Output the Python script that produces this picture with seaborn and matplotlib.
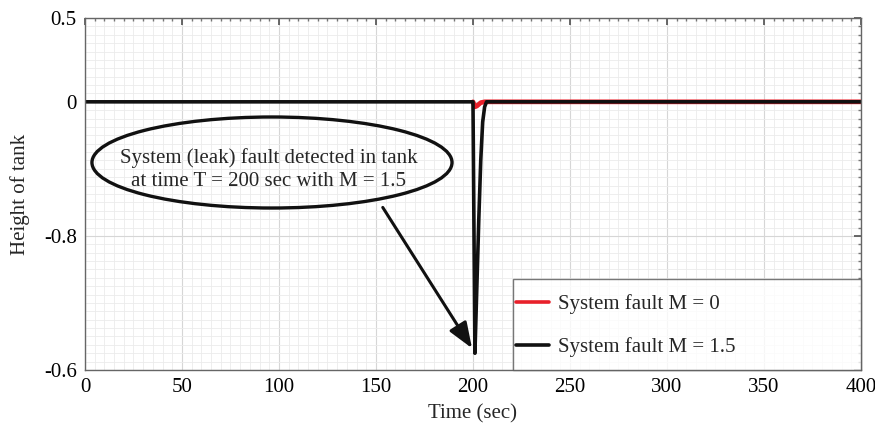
import numpy as np
import pandas as pd
import matplotlib
matplotlib.use("Agg")
import matplotlib.pyplot as plt
from matplotlib.patches import Ellipse
from matplotlib.ticker import MultipleLocator, FixedLocator, FixedFormatter
from matplotlib.legend_handler import HandlerLine2D
import seaborn as sns

# Tank height response for the two fault magnitudes
time_m0 = [200, 201, 202, 203, 204, 206, 400]
height_m0 = [0.0, -0.03, -0.025, -0.015, -0.005, 0.0, 0.0]

time_m15 = [0, 200, 201, 202, 203, 204, 205, 206, 207, 400]
height_m15 = [0.0, 0.0, -1.5, -1.1, -0.7, -0.35, -0.12, -0.03, 0.0, 0.0]

series_labels = ["System fault M = 0", "System fault M = 1.5"]
y_tick_values = [0.5, 0.0, -0.8, -1.6]
y_tick_labels = ["0.5", "0", "-0.8", "-0.6"]
x_tick_values = [0, 50, 100, 150, 200, 250, 300, 350, 400]

df = pd.concat([
    pd.DataFrame({"t": time_m0, "h": height_m0, "series": series_labels[0]}),
    pd.DataFrame({"t": time_m15, "h": height_m15, "series": series_labels[1]}),
])

sns.set_theme(style="white")
plt.rcParams["font.family"] = ["Liberation Serif", "DejaVu Serif"]

FS = 15


class LoweredLine(HandlerLine2D):
    """Legend line nudged down so it sits level with the label text."""

    def create_artists(self, legend, orig_handle, xdescent, ydescent,
                       width, height, fontsize, trans):
        artists = super().create_artists(legend, orig_handle, xdescent,
                                         ydescent, width, height, fontsize,
                                         trans)
        for a in artists:
            a.set_ydata(np.asarray(a.get_ydata()) - 5.0)
        return artists


fig = plt.figure(figsize=(8.75, 4.29), dpi=100)
ax = fig.add_axes([0.0971, 0.1375, 0.8869, 0.8205])

sns.lineplot(data=df, x="t", y="h", hue="series", hue_order=series_labels,
             palette=["#e8202a", "#111111"], ax=ax,
             sort=False, estimator=None, legend=False)
red_line, black_line = ax.get_lines()[0], ax.get_lines()[1]
red_line.set_linewidth(3.4)
black_line.set_linewidth(2.6)

ax.set_xlim(0, 400)
ax.set_ylim(-1.6, 0.5)
ax.xaxis.set_major_locator(FixedLocator(x_tick_values))
ax.xaxis.set_minor_locator(MultipleLocator(5))
ax.yaxis.set_major_locator(FixedLocator(y_tick_values))
ax.yaxis.set_major_formatter(FixedFormatter(y_tick_labels))
ax.yaxis.set_minor_locator(MultipleLocator(0.05))

ax.grid(which="major", color="#d6d6d6", linewidth=0.8)
ax.grid(which="minor", color="#ebebeb", linewidth=0.6)
ax.set_axisbelow(True)

ax.tick_params(which="both", direction="in", top=True, right=True,
               labelsize=FS, colors="#000000")
ax.tick_params(which="major", length=5, color="#555555", pad=6)
ax.tick_params(which="minor", length=2.5, color="#777777")
for s in ax.spines.values():
    s.set_color("#666666")
    s.set_linewidth(1.0)

ax.set_xlabel("Time (sec)", fontsize=FS, labelpad=5)
ax.set_ylabel("Height of tank", fontsize=FS, labelpad=10)

# Callout bubble with arrow to the leak dip
ell = Ellipse((96.4, -0.362), 185.6, 0.543, fill=False, edgecolor="#111111",
              linewidth=2.4, zorder=5)
ax.add_patch(ell)
ax.text(94.6, -0.405, "System (leak) fault detected in tank\nat time T = 200 sec with M = 1.5",
        ha="center", va="center", fontsize=FS, linespacing=1.3, zorder=6)
ax.annotate("", xy=(199.5, -1.47), xytext=(153.5, -0.63),
            arrowprops=dict(arrowstyle="-|>,head_length=1.3,head_width=0.5",
                            color="#111111", lw=2.2, shrinkA=0, shrinkB=0),
            zorder=6)

handles = [plt.Line2D([], [], color="#e8202a", lw=2.6),
           plt.Line2D([], [], color="#111111", lw=2.6)]
leg = ax.legend(handles, series_labels, loc="lower left",
                bbox_to_anchor=(0.5515, 0.0, 0.4485, 0.26), mode="expand",
                frameon=True, fontsize=FS, handlelength=1.6, handleheight=2.73,
                handletextpad=0.4, borderpad=0.15, labelspacing=0.05,
                borderaxespad=0.0, fancybox=False,
                handler_map={plt.Line2D: LoweredLine()})
leg.get_frame().set_edgecolor("#555555")
leg.get_frame().set_linewidth(1.0)

fig.savefig("out.png", dpi=100)
